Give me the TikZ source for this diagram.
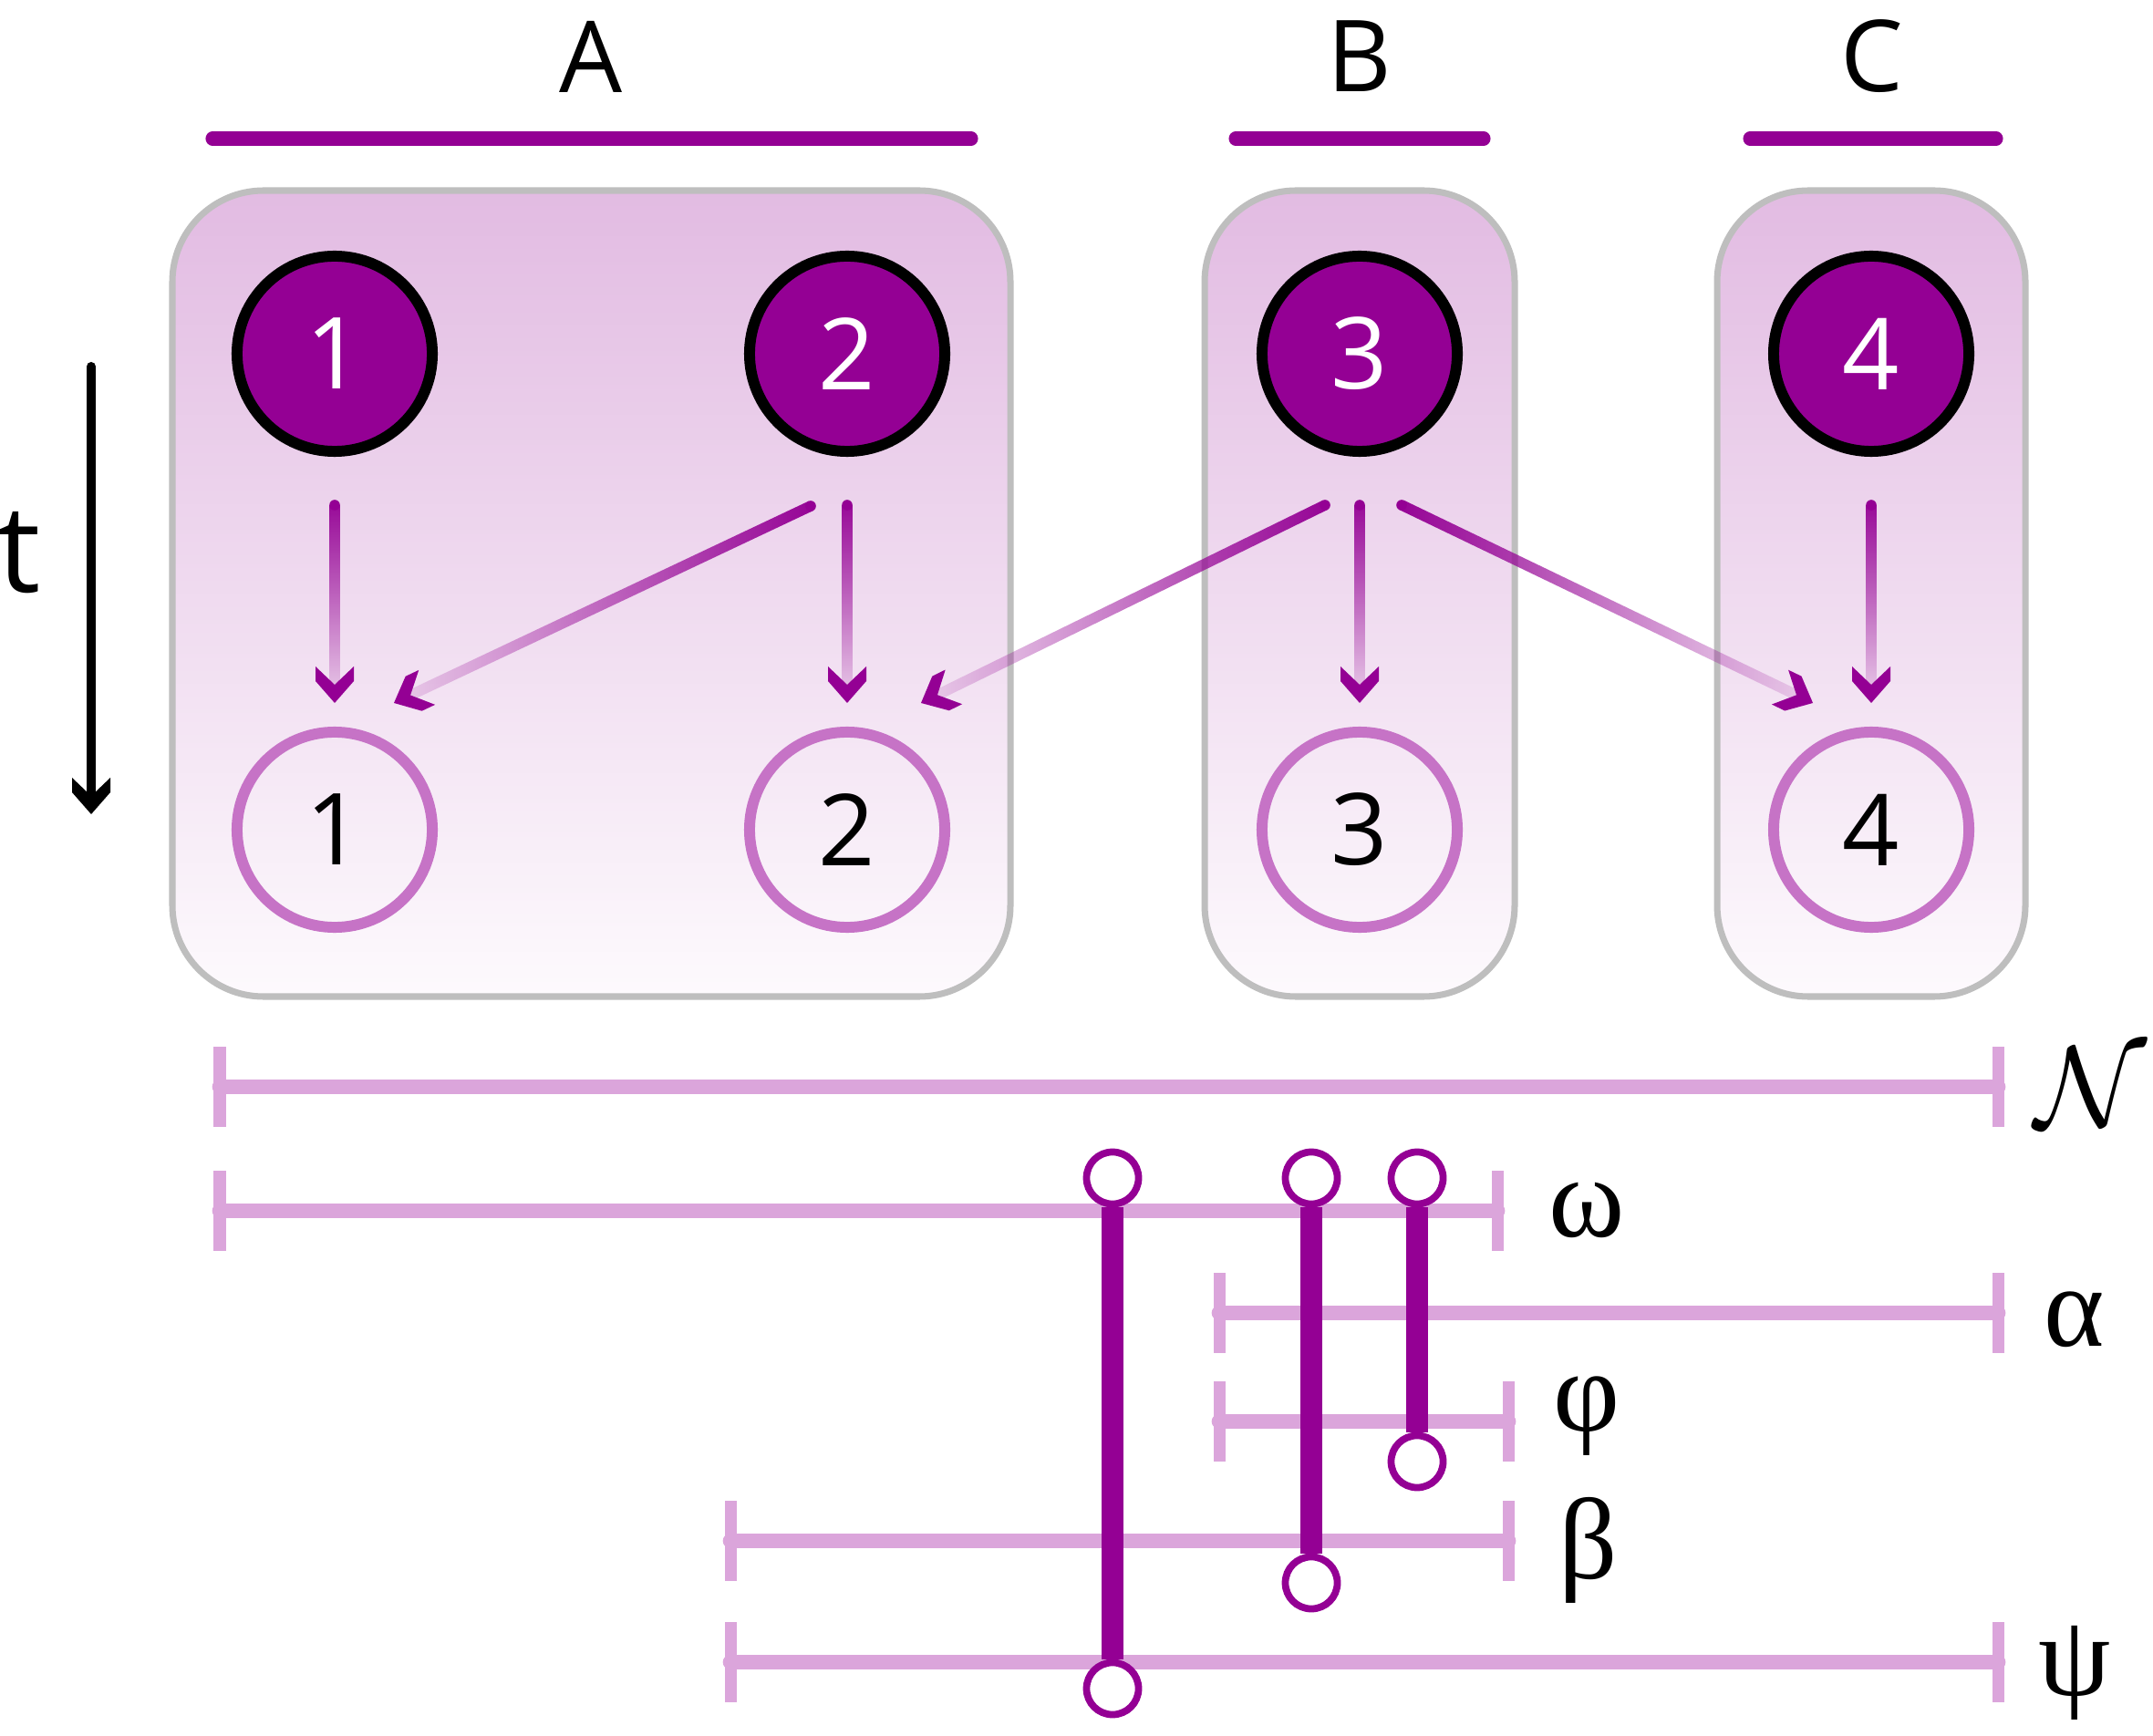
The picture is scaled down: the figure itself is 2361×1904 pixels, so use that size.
\documentclass[tikz,border=0pt]{standalone}
\usepackage{graphicx}
\usepackage{fontspec}
\setmainfont{Open Sans}
\newfontfamily\grk{Liberation Serif}
\usetikzlibrary{calc,fadings}
\definecolor{purp}{RGB}{148,0,148}
\definecolor{boxtop}{RGB}{226,187,226}
\definecolor{boxbot}{RGB}{253,250,253}
\definecolor{boxedge}{RGB}{190,190,190}
\definecolor{ring}{RGB}{198,115,198}
\definecolor{lpink}{RGB}{219,165,219}
\tikzfading[name=fadeS, top color=transparent!0, bottom color=transparent!90]
\tikzfading[name=fadeW, right color=transparent!0, left color=transparent!90]
\tikzfading[name=fadeE, left color=transparent!0, right color=transparent!90]
\newcommand\chevron[3]{%
  \pgfmathanglebetweenpoints{\pgfpointanchor{#1}{center}}{\pgfpointanchor{#2}{center}}%
  \let\chevang\pgfmathresult
  \fill[#3, shift={(#2)}, rotate=\chevang] (0,0) -- (-24,21) -- (-40,21) -- (-20,0) -- (-40,-21) -- (-24,-21) -- cycle;
}
\newcommand\fadearrow[4]{%
  \coordinate (fan) at ($(#2)!5.7pt!(#1)$);
  \draw[purp, line width=#3, path fading=#4] (#1) -- (fan)
     ($(#1)+(-9,-9)$) ($(#1)+(9,9)$) ($(fan)+(-9,-9)$) ($(fan)+(9,9)$);
  \fill[purp] (#1) circle[radius=0.5*#3];
  \chevron{#1}{#2}{purp}
}
\begin{document}
\begin{tikzpicture}[x=0.01cm, y=-0.01cm,
  topc/.style={circle, draw=black, line width=3.4pt, fill=purp, minimum size=2.14cm, inner sep=0pt, text=white, font=\fontsize{31}{31}\selectfont},
  botc/.style={circle, draw=ring, line width=3.4pt, minimum size=2.14cm, inner sep=0pt, text=black, font=\fontsize{31}{31}\selectfont},
  grp/.style={draw=boxedge, line width=2pt, rounded corners=1cm, top color=boxtop, bottom color=boxbot},
  bar/.style={purp, line width=4.3pt, line cap=round},
  hl/.style={lpink, line width=4.75pt, line cap=round},
  tk/.style={lpink, line width=3.7pt},
  link/.style={purp, line width=7pt},
  dotc/.style={circle, draw=purp, line width=2.2pt, fill=white, minimum size=0.57cm, inner sep=0pt},
  glab/.style={font=\grk\fontsize{36}{36}\selectfont, inner sep=0pt},
  hlab/.style={font=\fontsize{31}{31}\selectfont, inner sep=0pt}]
\useasboundingbox (0,0) rectangle (2361,1904);
\fill[white] (0,0) rectangle (2361,1904);

% group labels and bars
\node[hlab] (lA) at (648,62) {A};
\node[hlab] (lB) at (1491,62) {B};
\node[hlab] (lC) at (2053,62) {C};
\draw[bar] (233,152) -- (1065,152);
\draw[bar] (1355,152) -- (1627,152);
\draw[bar] (1919,152) -- (2189,152);

% group boxes
\draw[grp] (189,209) rectangle (1108,1093);
\draw[grp] (1321,209) rectangle (1661,1093);
\draw[grp] (1883,209) rectangle (2221,1093);

% circles
\node[topc] (u1) at (367,388) {1};
\node[topc] (u2) at (929,388) {2};
\node[topc] (u3) at (1491,388) {3};
\node[topc] (u4) at (2052,388) {4};
\node[botc] (b1) at (367,910) {1};
\node[botc] (b2) at (929,910) {2};
\node[botc] (b3) at (1491,910) {3};
\node[botc] (b4) at (2052,910) {4};

% arrows
\coordinate (s1) at (367,554);
\coordinate (e1) at (367,771);
\coordinate (s2) at (929,554);
\coordinate (e2) at (929,771);
\coordinate (s3) at (1491,554);
\coordinate (e3) at (1491,771);
\coordinate (s4) at (2052,554);
\coordinate (e4) at (2052,771);
\coordinate (s21) at (889,555);
\coordinate (e21) at (432,771);
\coordinate (s32) at (1453,554);
\coordinate (e32) at (1010,771);
\coordinate (s34) at (1537,554);
\coordinate (e34) at (1988,771);
\fadearrow{s1}{e1}{3.3pt}{fadeS}
\fadearrow{s2}{e2}{3.3pt}{fadeS}
\fadearrow{s3}{e3}{3.3pt}{fadeS}
\fadearrow{s4}{e4}{3.3pt}{fadeS}
\fadearrow{s21}{e21}{3.3pt}{fadeW}
\fadearrow{s32}{e32}{3.3pt}{fadeW}
\fadearrow{s34}{e34}{3.3pt}{fadeE}

% time axis
\node[font=\fontsize{38}{38}\selectfont, inner sep=0pt] (tl) at (21,606) {t};
\coordinate (ts) at (100,402);
\coordinate (te) at (100,893);
\draw[black, line width=2.85pt, line cap=round] (ts) -- ($(te)!5.7pt!(ts)$);
\chevron{ts}{te}{black}

% lower ranges
\draw[hl] (241,1192) -- (2191,1192);
\draw[tk] (241,1148) -- (241,1236); \draw[tk] (2191,1148) -- (2191,1236);
\draw[hl] (241,1328) -- (1642,1328);
\draw[tk] (241,1284) -- (241,1372); \draw[tk] (1642,1284) -- (1642,1372);
\draw[hl] (1337,1440) -- (2191,1440);
\draw[tk] (1337,1396) -- (1337,1484); \draw[tk] (2191,1396) -- (2191,1484);
\draw[hl] (1337,1559) -- (1654,1559);
\draw[tk] (1337,1515) -- (1337,1603); \draw[tk] (1654,1515) -- (1654,1603);
\draw[hl] (801,1690) -- (1654,1690);
\draw[tk] (801,1646) -- (801,1734); \draw[tk] (1654,1646) -- (1654,1734);
\draw[hl] (801,1823) -- (2191,1823);
\draw[tk] (801,1779) -- (801,1867); \draw[tk] (2191,1779) -- (2191,1867);

\node[inner sep=0pt] (lN) at (2293,1192) {\scalebox{3.6}{$\mathcal{N}$}};
\node[glab] (lw) at (1740,1327) {ω};
\node[glab] (la) at (2275,1447) {α};
\node[glab] (lf) at (1740,1553) {φ};
\node[glab] (lb) at (1742,1700) {β};
\node[glab] (lp) at (2275,1835) {ψ};

% links
\node[dotc] (p1) at (1220,1292) {};
\node[dotc] (q1) at (1220,1852) {};
\node[dotc] (p2) at (1438,1292) {};
\node[dotc] (q2) at (1438,1736) {};
\node[dotc] (p3) at (1554,1292) {};
\node[dotc] (q3) at (1554,1603) {};
\draw[link] (p1) -- (q1);
\draw[link] (p2) -- (q2);
\draw[link] (p3) -- (q3);
\end{tikzpicture}
\end{document}
